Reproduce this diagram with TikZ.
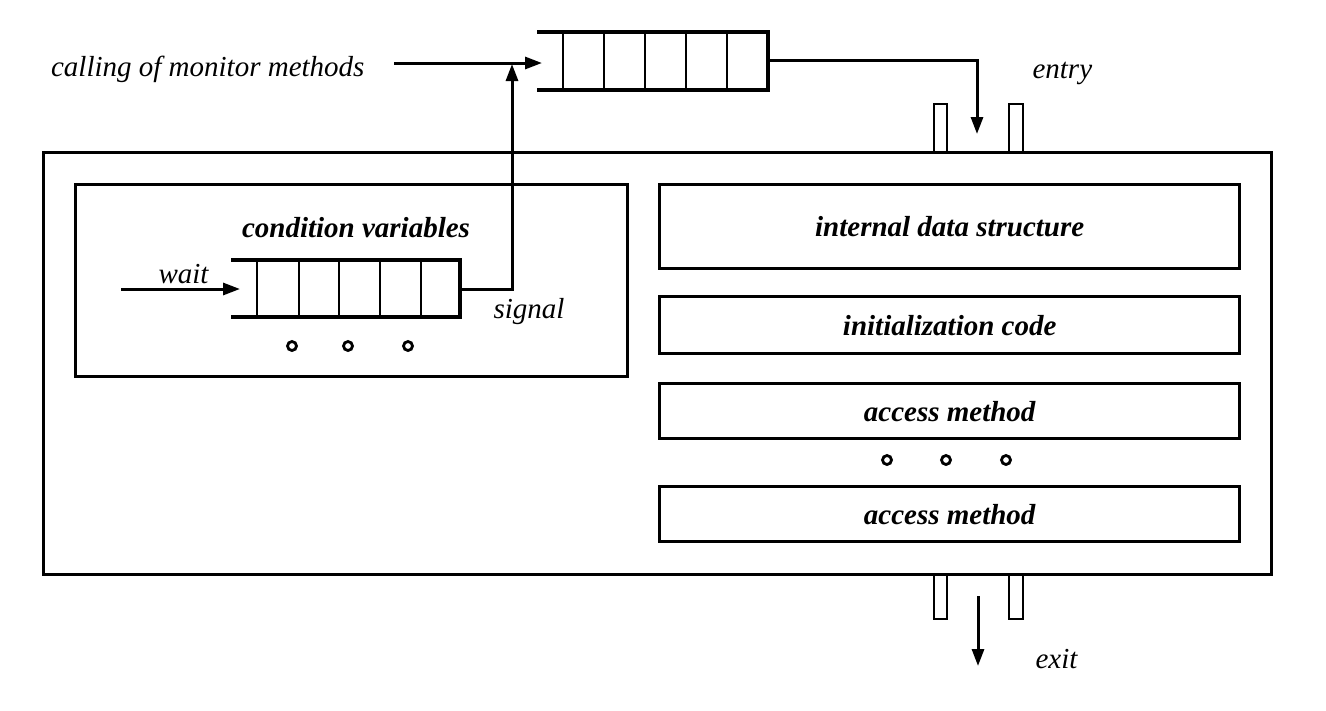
\documentclass[tikz,border=0pt]{standalone}
\usepackage{fontspec}
\setmainfont{Liberation Serif}
\usetikzlibrary{arrows.meta}
\begin{document}
\begin{tikzpicture}[x=1pt,y=-1pt,
  ln/.style={line width=3.4pt},
  thin/.style={line width=2.8pt},
  post/.style={line width=2.6pt},
  arr/.style={line width=3pt,-{Triangle[length=17pt,width=12pt]}},
  box/.style={draw,line width=3.4pt,inner sep=0pt,anchor=north west},
  lbl/.style={font=\fontsize{29}{33}\selectfont\itshape},
  blbl/.style={font=\fontsize{29}{33}\selectfont\bfseries\itshape},
  dot/.style={circle,draw,line width=2.8pt,minimum size=9pt,inner sep=0pt}]
\useasboundingbox (0,0) rectangle (1326,710);
% outer box
\node[box,minimum width=1228pt,minimum height=422pt] (outer) at (42,151) {};
% condition box
\node[box,minimum width=552pt,minimum height=192pt] (cond) at (74,183) {};
\node[blbl,anchor=base] (condt) at (356,237) {condition variables};
% right boxes
\node[box,minimum width=580pt,minimum height=84pt] (ids) at (658,183) {};
\node[blbl] at (ids.center) {internal data structure};
\node[box,minimum width=580pt,minimum height=57pt] (init) at (658,295) {};
\node[blbl] at (init.center) {initialization code};
\node[box,minimum width=580pt,minimum height=55pt] (am1) at (658,382) {};
\node[blbl] at (am1.center) {access method};
\node[box,minimum width=580pt,minimum height=55pt] (am2) at (658,485) {};
\node[blbl] at (am2.center) {access method};
\node[dot] (d1) at (887,460) {};
\node[dot] (d2) at (946,460) {};
\node[dot] (d3) at (1006,460) {};
% condition queue
\draw[ln] (231,260) -- (460,260) -- (460,317) -- (231,317);
\foreach \x in {257,299,339,380,421} \draw[thin] (\x,260) -- (\x,317);
\coordinate (cqin) at (240,289);
\coordinate (cqout) at (460,289);
\coordinate (cwait) at (121,289);
\draw[arr] (cwait) -- (cqin);
\node[lbl,anchor=base west] (waitt) at (155,283) {wait};
\node[lbl,anchor=base west] (sigt) at (490,318) {signal};
\node[dot] (c1) at (292,346) {};
\node[dot] (c2) at (348,346) {};
\node[dot] (c3) at (408,346) {};
% top queue
\draw[ln] (537,32) -- (768,32) -- (768,90) -- (537,90);
\foreach \x in {563,604,645,686,727} \draw[thin] (\x,32) -- (\x,90);
\coordinate (tqin) at (542,63);
\coordinate (tqout) at (768,60);
\coordinate (callstart) at (394,63);
\coordinate (sigup) at (512,64);
\coordinate (bend) at (512,289);
\draw[arr] (callstart) -- (tqin);
\draw[arr] (cqout) -- (bend) -- (sigup);
\node[lbl,anchor=base east] (callt) at (368,76) {calling of monitor methods};
% entry
\coordinate (ecorner) at (977,60);
\coordinate (etip) at (977,134);
\draw[arr] (tqout) -- (ecorner) -- (etip);
\draw[post] (934,151) -- (934,104) -- (947,104) -- (947,151);
\draw[post] (1009,151) -- (1009,104) -- (1023,104) -- (1023,151);
\node[lbl,anchor=base west] (entryt) at (1029,78) {entry};
% exit
\draw[post] (934,573) -- (934,619) -- (947,619) -- (947,573);
\draw[post] (1009,573) -- (1009,619) -- (1023,619) -- (1023,573);
\coordinate (xstart) at (978,596);
\coordinate (xtip) at (978,666);
\draw[arr] (xstart) -- (xtip);
\node[lbl,anchor=base west] (exitt) at (1032,668) {exit};
\end{tikzpicture}
\end{document}
